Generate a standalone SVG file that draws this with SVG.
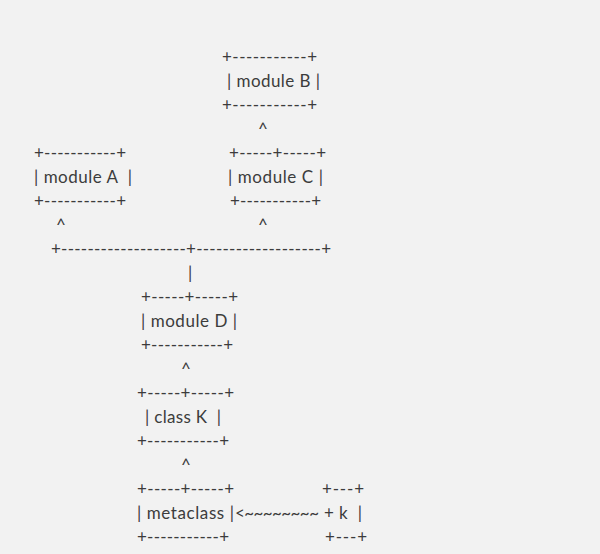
<svg xmlns="http://www.w3.org/2000/svg" width="600" height="554" viewBox="0 0 600 554">
  <style>
    text { font-family: Lato, "Open Sans", "Liberation Sans", sans-serif; font-size: 17px; fill: #3c3c3c; white-space: pre; }
  </style>
  <rect width="600" height="554" fill="#f2f2f2"/>

  <!-- module B -->
  <g id="module-b">
    <text x="222" y="63" textLength="95" lengthAdjust="spacing">+-----------+</text>
    <text x="227" y="87" textLength="93" lengthAdjust="spacing">| module B |</text>
    <text x="222" y="111" textLength="95" lengthAdjust="spacing">+-----------+</text>
  </g>

  <!-- module A -->
  <g id="module-a">
    <text x="34" y="159" textLength="92" lengthAdjust="spacing">+-----------+</text>
    <text x="34" y="183" textLength="98" lengthAdjust="spacing">| module A  |</text>
    <text x="34" y="207" textLength="92" lengthAdjust="spacing">+-----------+</text>
  </g>

  <!-- module C -->
  <g id="module-c">
    <text x="229" y="159" textLength="97" lengthAdjust="spacing">+-----+-----+</text>
    <text x="228" y="183" textLength="95" lengthAdjust="spacing">| module C |</text>
    <text x="230" y="207" textLength="91" lengthAdjust="spacing">+-----------+</text>
  </g>

  <!-- module D -->
  <g id="module-d">
    <text x="141" y="303" textLength="97" lengthAdjust="spacing">+-----+-----+</text>
    <text x="141" y="327" textLength="96" lengthAdjust="spacing">| module D |</text>
    <text x="141" y="351" textLength="92" lengthAdjust="spacing">+-----------+</text>
  </g>

  <!-- class K -->
  <g id="class-k">
    <text x="137" y="399" textLength="97" lengthAdjust="spacing">+-----+-----+</text>
    <text x="145" y="423" textLength="76" lengthAdjust="spacing">| class K  |</text>
    <text x="137" y="447" textLength="92" lengthAdjust="spacing">+-----------+</text>
  </g>

  <!-- metaclass -->
  <g id="metaclass">
    <text x="137" y="495" textLength="97" lengthAdjust="spacing">+-----+-----+</text>
    <text x="137" y="519" textLength="97" lengthAdjust="spacing">| metaclass |</text>
    <text x="137" y="543" textLength="92" lengthAdjust="spacing">+-----------+</text>
  </g>

  <!-- instance k -->
  <g id="instance-k">
    <text x="322" y="495" textLength="42" lengthAdjust="spacing">+---+</text>
    <text x="324" y="519" textLength="38" lengthAdjust="spacing">+ k  |</text>
    <text x="325" y="543" textLength="42" lengthAdjust="spacing">+---+</text>
  </g>

  <!-- connectors -->
  <g id="connectors">
    <text x="258" y="135">^</text>
    <text x="56" y="231">^</text>
    <text x="258" y="231">^</text>
    <text x="51" y="255" textLength="280" lengthAdjust="spacing">+-------------------+-------------------+</text>
    <text x="188" y="279">|</text>
    <text x="181" y="375">^</text>
    <text x="181" y="471">^</text>
    <text x="235" y="519" textLength="84" lengthAdjust="spacing">&lt;~~~~~~~~</text>
  </g>
</svg>
